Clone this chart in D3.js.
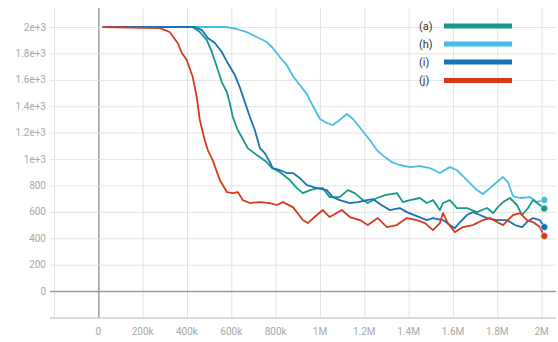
<!DOCTYPE html>
<html>
<head>
<meta charset="utf-8">
<script src="https://cdn.jsdelivr.net/npm/d3@7"></script>
<style>
  body { margin: 0; background: #fff; }
  svg { display: block; font-family: Roboto, "Open Sans", sans-serif; }
</style>
</head>
<body>
<div id="chart"></div>
<script>
// step (thousands) / value pairs
const seriesA = [[20,2000],[426,2000],[458,1962],[489,1902],[512,1811],[535,1697],[557,1583],[580,1508],[593,1424],[607,1318],[629,1220],[652,1152],[674,1083],[715,1030],[760,977],[783,932],[819,902],[864,841],[896,780],[923,742],[955,765],[991,780],[1013,780],[1044,712],[1089,712],[1126,765],[1157,742],[1194,689],[1216,667],[1257,705],[1293,727],[1347,742],[1374,674],[1406,689],[1451,705],[1482,667],[1510,689],[1541,614],[1555,667],[1586,689],[1618,629],[1663,629],[1708,598],[1754,629],[1781,591],[1803,636],[1826,674],[1857,705],[1889,652],[1912,576],[1939,629],[1961,689],[1992,652],[2012,625]];
const seriesH = [[20,2000],[580,2000],[625,1985],[670,1962],[715,1924],[760,1886],[787,1841],[819,1773],[850,1712],[878,1629],[909,1561],[941,1492],[968,1402],[1000,1303],[1031,1273],[1058,1258],[1089,1295],[1121,1341],[1149,1303],[1189,1220],[1225,1144],[1257,1068],[1293,1015],[1324,977],[1360,955],[1406,939],[1451,947],[1496,932],[1541,894],[1586,939],[1618,917],[1663,841],[1708,765],[1735,735],[1767,780],[1799,826],[1826,864],[1848,826],[1871,720],[1903,705],[1948,712],[1979,674],[2012,690]];
const seriesI = [[20,2000],[435,2000],[467,1977],[494,1917],[526,1879],[557,1811],[584,1727],[616,1636],[638,1545],[661,1432],[684,1318],[706,1220],[729,1083],[751,1045],[774,977],[787,932],[819,917],[850,894],[878,894],[909,856],[941,803],[986,780],[1031,765],[1058,712],[1089,689],[1135,667],[1171,674],[1212,689],[1239,697],[1270,659],[1315,614],[1360,629],[1392,598],[1437,568],[1482,538],[1510,553],[1555,538],[1586,500],[1609,477],[1632,523],[1663,576],[1690,598],[1722,576],[1754,553],[1799,538],[1844,538],[1880,500],[1912,485],[1934,523],[1961,553],[1992,538],[2012,485]];
const seriesJ = [[20,2000],[277,1992],[322,1962],[358,1879],[377,1803],[399,1750],[426,1621],[444,1470],[458,1295],[480,1144],[494,1068],[516,992],[548,841],[580,750],[607,742],[629,750],[652,689],[684,667],[729,674],[774,667],[806,652],[833,674],[878,636],[923,538],[945,515],[986,576],[1013,614],[1044,561],[1099,614],[1135,561],[1180,538],[1216,500],[1261,553],[1302,485],[1347,500],[1392,553],[1437,538],[1474,515],[1510,462],[1541,515],[1555,591],[1577,515],[1609,447],[1645,485],[1690,500],[1735,538],[1767,553],[1799,523],[1826,500],[1848,538],[1871,576],[1903,591],[1934,538],[1961,523],[1992,485],[2012,417]];

const seriesNames = ['(a)', '(h)', '(i)', '(j)'];
const seriesColors = ['#16998a', '#47bde6', '#1872b5', '#d63a1d'];
const seriesData = [seriesA, seriesH, seriesI, seriesJ];
const drawOrder = [1, 0, 2, 3];

const yTicks = [0, 200, 400, 600, 800, 1000, 1200, 1400, 1600, 1800, 2000];
const yTickLabels = ['0', '200', '400', '600', '800', '1e+3', '1.2e+3', '1.4e+3', '1.6e+3', '1.8e+3', '2e+3'];
const xTicks = [0, 200, 400, 600, 800, 1000, 1200, 1400, 1600, 1800, 2000];
const xTickLabels = ['0', '200k', '400k', '600k', '800k', '1M', '1.2M', '1.4M', '1.6M', '1.8M', '2M'];

const width = 558, height = 342;
const plot = {left: 54, right: 556, top: 8, bottom: 317.5};

const svg = d3.select('#chart').append('svg')
  .attr('width', width)
  .attr('height', height);

const x = d3.scaleLinear().domain([-200, 2065]).range([plot.left, plot.right]);
const y = d3.scaleLinear().domain([-200, 2144]).range([plot.bottom, plot.top]);

// grid
const grid = svg.append('g');
grid.selectAll('line.vg')
  .data([-200].concat(xTicks))
  .enter().append('line')
  .attr('x1', d => x(d) + 0.5).attr('x2', d => x(d) + 0.5)
  .attr('y1', plot.top).attr('y2', plot.bottom)
  .attr('stroke', d => d === 0 ? '#9a9a9a' : '#e3e3e3')
  .attr('stroke-width', d => d === 0 ? 1.5 : 1);
grid.selectAll('line.hg')
  .data(yTicks)
  .enter().append('line')
  .attr('x1', plot.left - 4).attr('x2', plot.right)
  .attr('y1', d => y(d) + 0.5).attr('y2', d => y(d) + 0.5)
  .attr('stroke', d => d === 0 ? '#9a9a9a' : '#e3e3e3')
  .attr('stroke-width', d => d === 0 ? 1.5 : 1);
grid.append('line')
  .attr('x1', plot.left - 4).attr('x2', plot.right)
  .attr('y1', plot.bottom + 0.5).attr('y2', plot.bottom + 0.5)
  .attr('stroke', '#b5b5b5');

// tick labels
svg.append('g').selectAll('text')
  .data(yTicks)
  .enter().append('text')
  .attr('x', 46)
  .attr('y', d => y(d))
  .attr('dy', '0.35em')
  .attr('text-anchor', 'end')
  .attr('font-size', 10)
  .attr('fill', '#a8a8a8')
  .text((d, i) => yTickLabels[i]);
svg.append('g').selectAll('text')
  .data(xTicks)
  .enter().append('text')
  .attr('x', d => x(d))
  .attr('y', 331)
  .attr('dy', '0.35em')
  .attr('text-anchor', 'middle')
  .attr('font-size', 10)
  .attr('fill', '#a8a8a8')
  .text((d, i) => xTickLabels[i]);

// series
const line = d3.line()
  .x(d => x(d[0]))
  .y(d => y(d[1]))
  .curve(d3.curveLinear);

const lines = svg.append('g');
drawOrder.forEach(k => {
  lines.append('path')
    .datum(seriesData[k])
    .attr('fill', 'none')
    .attr('stroke', seriesColors[k])
    .attr('stroke-width', 1.8)
    .attr('stroke-linejoin', 'round')
    .attr('d', line);
});
drawOrder.forEach(k => {
  const last = seriesData[k][seriesData[k].length - 1];
  lines.append('circle')
    .attr('cx', x(last[0]))
    .attr('cy', y(last[1]))
    .attr('r', 3.5)
    .attr('fill', seriesColors[k])
    .attr('stroke', '#fff')
    .attr('stroke-opacity', 0.6)
    .attr('stroke-width', 1);
});

// legend
const legend = svg.append('g');
const legendY = [26, 44, 62, 80.5];
seriesNames.forEach((name, i) => {
  legend.append('text')
    .attr('x', 419)
    .attr('y', legendY[i])
    .attr('dy', '0.35em')
    .attr('font-size', 11)
    .attr('fill', '#333')
    .text(name);
  legend.append('line')
    .attr('x1', 444).attr('x2', 512)
    .attr('y1', legendY[i]).attr('y2', legendY[i])
    .attr('stroke', seriesColors[i])
    .attr('stroke-width', 5);
});
</script>
</body>
</html>
